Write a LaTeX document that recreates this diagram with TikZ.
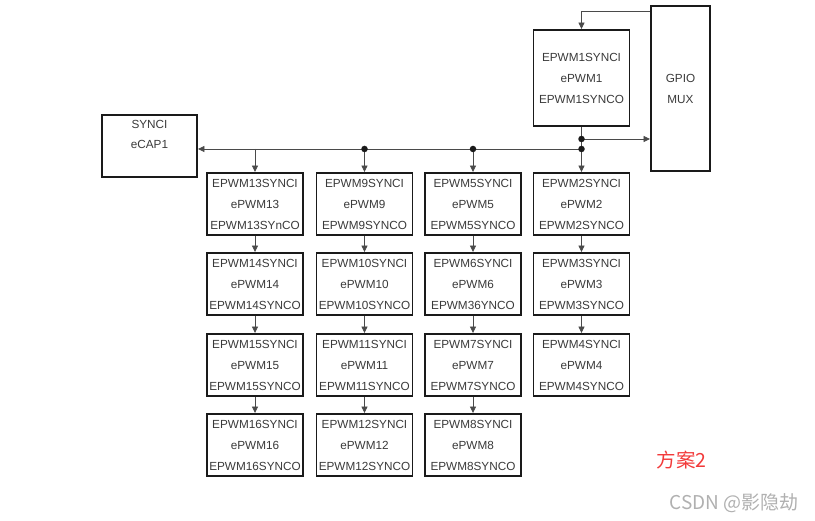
\documentclass[tikz,border=0pt]{standalone}
\usepackage{fontspec}
\setmainfont{Liberation Sans}
\newfontfamily\cjk{Noto Sans CJK SC}
\usetikzlibrary{arrows.meta}
\definecolor{txtc}{HTML}{3A3A3A}
\definecolor{boxc}{HTML}{1A1A1A}
\definecolor{linec}{HTML}{4A4A4A}
\definecolor{redc}{HTML}{F23A3A}
\definecolor{wmc}{HTML}{B0B0B0}
\begin{document}
\begin{tikzpicture}[x=1pt,y=-1pt,
  box/.style={draw=boxc, line width=1.9pt, minimum width=96pt, minimum height=62pt, inner sep=0pt, align=center, font=\fontsize{11.75}{21}\selectfont, text=txtc},
  conn/.style={draw=linec, line width=0.8pt},
  arr/.style={conn, -{Triangle[length=6.5pt,width=6pt]}},
  dot/.style={circle, fill=boxc, inner sep=0pt, minimum size=6.5pt}]
\useasboundingbox (0,0) rectangle (815,521);
% top boxes
\node[box, minimum height=96pt] (p1) at (581.5,78) {EPWM1SYNCI\\ePWM1\\EPWM1SYNCO};
\node[box, minimum width=59pt, minimum height=165pt] (gpio) at (680.5,88.5) {GPIO\\MUX};
\node[box, minimum width=95pt, minimum height=62pt] (ecap) at (149.5,146) {};
\node[align=center, text=txtc, font=\fontsize{11.75}{20}\selectfont, inner sep=0pt] (ecapt) at (149.5,134) {SYNCI\\eCAP1};
% column 1
\node[box] (e13) at (255,204) {EPWM13SYNCI\\ePWM13\\EPWM13SYnCO};
\node[box] (e14) at (255,284) {EPWM14SYNCI\\ePWM14\\EPWM14SYNCO};
\node[box] (e15) at (255,365) {EPWM15SYNCI\\ePWM15\\EPWM15SYNCO};
\node[box] (e16) at (255,445) {EPWM16SYNCI\\ePWM16\\EPWM16SYNCO};
% column 2
\node[box] (e9) at (364.5,204) {EPWM9SYNCI\\ePWM9\\EPWM9SYNCO};
\node[box] (e10) at (364.5,284) {EPWM10SYNCI\\ePWM10\\EPWM10SYNCO};
\node[box] (e11) at (364.5,365) {EPWM11SYNCI\\ePWM11\\EPWM11SYNCO};
\node[box] (e12) at (364.5,445) {EPWM12SYNCI\\ePWM12\\EPWM12SYNCO};
% column 3
\node[box] (e5) at (473,204) {EPWM5SYNCI\\ePWM5\\EPWM5SYNCO};
\node[box] (e6) at (473,284) {EPWM6SYNCI\\ePWM6\\EPWM36YNCO};
\node[box] (e7) at (473,365) {EPWM7SYNCI\\ePWM7\\EPWM7SYNCO};
\node[box] (e8) at (473,445) {EPWM8SYNCI\\ePWM8\\EPWM8SYNCO};
% column 4
\node[box] (e2) at (581.5,204) {EPWM2SYNCI\\ePWM2\\EPWM2SYNCO};
\node[box] (e3) at (581.5,284) {EPWM3SYNCI\\ePWM3\\EPWM3SYNCO};
\node[box] (e4) at (581.5,365) {EPWM4SYNCI\\ePWM4\\EPWM4SYNCO};
% junctions
\coordinate (j1) at (581.5,139);
\coordinate (j2) at (581.5,149);
\coordinate (j3) at (364.5,149);
\coordinate (j4) at (473,149);
% connectors
\draw[arr] ([yshift=-6pt]gpio.north west) -| (p1.north);
\draw[conn] (p1.south) -- (j1) -- (j2);
\draw[arr] (j1) -- (j1 -| gpio.west);
\draw[arr] (j2) -- (j2 -| ecap.east);
\draw[arr] (j2) -- (e2.north);
\draw[arr] (j3) -- (e9.north);
\draw[arr] (j4) -- (e5.north);
\draw[arr] (e13.north |- j2) -- (e13.north);
\foreach \a/\b in {e13/e14,e14/e15,e15/e16,e9/e10,e10/e11,e11/e12,e5/e6,e6/e7,e7/e8,e2/e3,e3/e4}
  \draw[arr] (\a.south) -- (\b.north);
\node[dot] (d1) at (j1) {};
\node[dot] (d2) at (j2) {};
\node[dot] (d3) at (j3) {};
\node[dot] (d4) at (j4) {};
% annotations
\node[text=redc, font=\cjk\fontsize{19.5}{20}\selectfont, inner sep=0pt] (fa) at (681.5,460) {方案2};
\node[text=wmc, font=\cjk\fontsize{19}{20}\selectfont, inner sep=0pt] (wm) at (734,503) {CSDN @影隐劫};
\end{tikzpicture}
\end{document}
